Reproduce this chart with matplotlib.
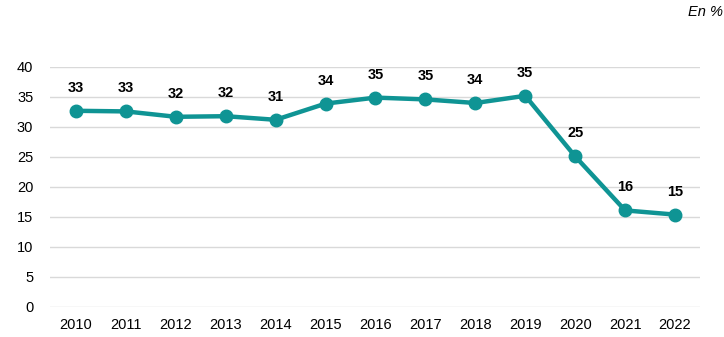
import matplotlib
matplotlib.use("Agg")
import matplotlib.pyplot as plt

years = [2010, 2011, 2012, 2013, 2014, 2015, 2016, 2017, 2018, 2019, 2020, 2021, 2022]
values = [32.7, 32.6, 31.7, 31.8, 31.2, 33.9, 34.9, 34.6, 34.0, 35.2, 25.1, 16.1, 15.4]
labels = ["33", "33", "32", "32", "31", "34", "35", "35", "34", "35", "25", "16", "15"]
yticks = [0, 5, 10, 15, 20, 25, 30, 35, 40]

plt.rcParams['font.family'] = ['Liberation Sans', 'DejaVu Sans']
color = "#0F9494"

fig = plt.figure(figsize=(7.24, 3.37), dpi=100)
ax = fig.add_axes([50/724, 30/337, 650/724, 240/337])
ax.plot(years, values, color=color, lw=3.2, marker='o', ms=9, zorder=3)
for x, v, t in zip(years, values, labels):
    ax.annotate(t, (x, v), xytext=(0, 11.5), textcoords='offset points',
                ha='center', va='bottom', fontsize=10.5, fontweight='bold', color='black')
ax.set_xlim(2009.48, 2022.5)
ax.set_ylim(0, 40)
ax.set_yticks(yticks)
ax.set_xticks(years)
ax.set_xticklabels([str(y) for y in years])
ax.grid(axis='y', color='#d9d9d9', lw=1)
ax.set_axisbelow(True)
for s in ax.spines.values():
    s.set_visible(False)
ax.tick_params(length=0, labelsize=10.5, colors='black')
ax.tick_params(axis='x', pad=8)
ax.tick_params(axis='y', pad=12)
fig.text(705/724, 1 - 12/337, "En %", ha='center', va='center', fontsize=10.5, style='italic')
fig.savefig("out.png", dpi=100)
